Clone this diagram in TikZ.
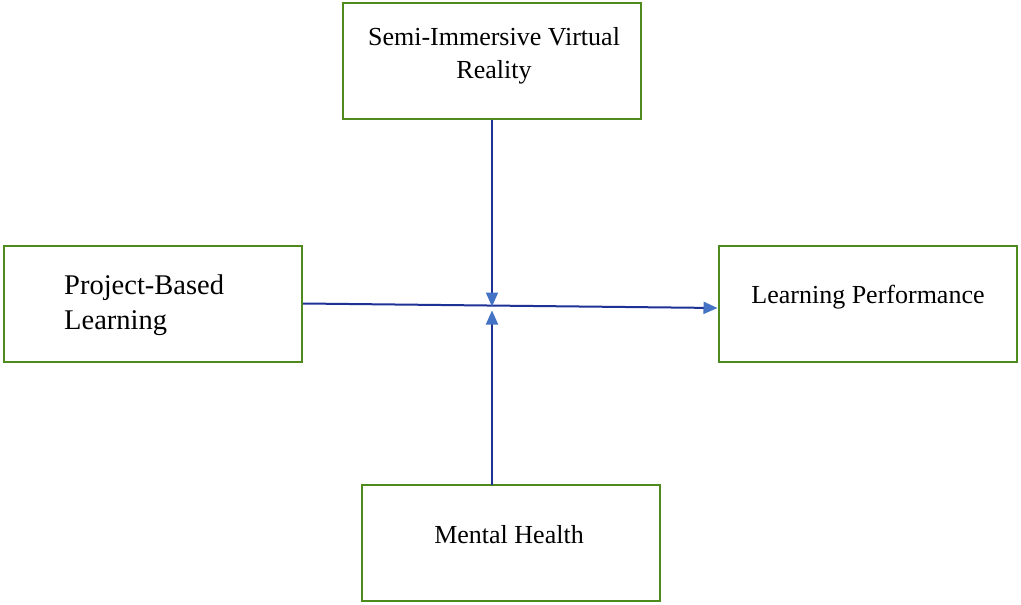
\documentclass[tikz,border=0pt]{standalone}
\usepackage{fontspec}
\setmainfont{Liberation Serif}
\usetikzlibrary{arrows.meta,positioning,calc}
\definecolor{boxgreen}{RGB}{78,138,30}
\definecolor{linenavy}{RGB}{30,50,150}
\definecolor{tipblue}{RGB}{68,114,196}
\tikzset{
  boxnode/.style={draw=boxgreen,line width=2pt,minimum width=#1,minimum height=116pt,inner sep=0pt},
  boxnode/.default=298pt,
  label26/.style={font=\fontsize{26}{33}\selectfont,inner sep=0pt,align=left},
  conn/.style={draw=linenavy,line width=2pt,-{Triangle[length=14pt,width=12pt,color=tipblue]}}
}
\begin{document}
\begin{tikzpicture}[x=1pt,y=-1pt]
\fill[white] (0,0) rectangle (1021,605);
\useasboundingbox (0,0) rectangle (1021,605);
\node[boxnode] (sivr) at (492,61) {};
\node[boxnode] (pbl) at (153,303.5) {};
\node[boxnode] (lp) at (867.5,303.5) {};
\node[boxnode] (mh) at (510.5,542.5) {};
\node[label26,align=center,font=\fontsize{26}{33}\selectfont] (tsivr) at (494,56) {Semi-Immersive Virtual\\Reality};
\node[label26,anchor=west,font=\fontsize{28.5}{35}\selectfont] (tpbl) at (64,305) {Project-Based\\Learning};
\node[label26] (tlp) at (868,297.5) {Learning Performance};
\node[label26] (tmh) at (509,534.5) {Mental Health};
\coordinate (c) at (492,306.5);
\coordinate (cb) at (492,310.5);
\coordinate (mhtop) at (492,485);
\draw[conn] (pbl.east) -- ([yshift=-4.5pt]lp.west);
\draw[conn] (sivr.south) -- (c);
\draw[conn] (mhtop) -- (cb);
\end{tikzpicture}
\end{document}
